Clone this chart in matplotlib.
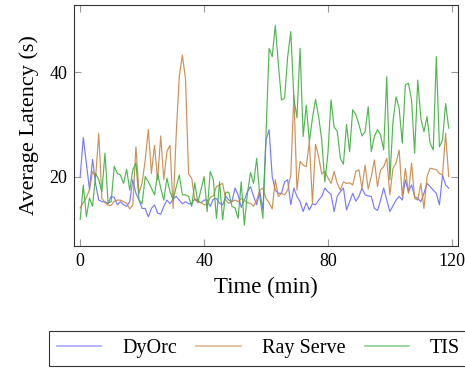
import matplotlib
matplotlib.use("Agg")
import matplotlib.pyplot as plt

time_min = list(range(120))

dyorc = [20.0, 27.5, 22.5, 17.5, 23.3, 18.5, 15.5, 15.2, 15.2, 14.8,
         16.2, 16.0, 14.6, 15.2, 14.6, 14.3, 15.2, 19.4, 16.8, 15.5,
         13.9, 13.9, 12.3, 13.9, 14.6, 13.0, 12.8, 14.3, 15.5, 14.8,
         15.7, 16.2, 15.5, 14.8, 15.2, 14.8, 14.8, 15.8, 15.2, 15.0,
         15.5, 15.5, 14.3, 15.7, 15.8, 14.9, 14.6, 16.2, 15.5, 15.2,
         17.8, 16.5, 14.1, 15.5, 17.1, 18.1, 16.2, 14.6, 17.1, 13.6,
         27.0, 29.0, 20.0, 17.4, 16.8, 16.8, 19.0, 19.4, 14.6, 17.8,
         16.2, 15.2, 13.3, 15.0, 13.6, 14.8, 14.6, 15.5, 16.2, 17.8,
         17.1, 16.6, 13.3, 16.2, 17.1, 17.8, 13.6, 15.2, 16.8, 15.3,
         16.2, 17.8, 16.5, 16.3, 16.2, 13.9, 13.5, 15.5, 17.8, 15.5,
         13.3, 14.4, 15.5, 16.2, 15.5, 19.4, 17.1, 18.4, 16.2, 15.8,
         15.2, 16.8, 18.7, 18.1, 17.4, 16.8, 14.6, 20.3, 18.4, 17.8]

ray_serve = [14.0, 15.0, 16.0, 17.5, 21.0, 20.0, 28.3, 15.8, 15.0, 14.5,
             14.5, 15.3, 15.5, 15.5, 15.2, 14.9, 13.8, 14.6, 25.7, 16.8,
             18.8, 23.2, 29.0, 20.6, 26.0, 19.4, 27.8, 19.4, 24.8, 26.0,
             13.9, 28.0, 39.2, 43.3, 38.8, 20.5, 19.7, 15.5, 15.2, 15.0,
             14.6, 14.6, 16.0, 16.3, 18.1, 18.4, 18.7, 15.5, 14.9, 15.2,
             15.5, 15.2, 15.8, 15.5, 15.0, 14.9, 14.3, 15.5, 17.4, 17.8,
             15.8, 15.0, 13.8, 19.4, 16.2, 16.8, 16.5, 17.4, 20.3, 35.6,
             17.4, 22.9, 22.2, 21.9, 26.7, 14.9, 26.2, 23.8, 20.5, 21.0,
             19.8, 18.7, 21.0, 18.7, 17.4, 19.0, 18.7, 18.8, 18.4, 21.0,
             21.3, 17.8, 22.2, 17.6, 20.0, 23.2, 18.1, 21.3, 21.9, 23.5,
             16.5, 21.6, 22.6, 25.1, 16.2, 21.6, 16.8, 22.6, 15.8, 15.5,
             18.7, 13.9, 20.0, 21.6, 21.5, 21.3, 20.6, 20.3, 28.3, 20.0]

tis = [11.8, 18.4, 12.3, 15.9, 14.3, 20.6, 19.4, 17.1, 24.5, 14.9,
       15.2, 22.0, 20.6, 20.3, 18.7, 21.4, 17.4, 21.3, 22.6, 15.5,
       14.8, 20.0, 19.0, 17.8, 16.5, 20.6, 17.8, 15.5, 19.7, 17.1,
       15.6, 18.0, 20.3, 16.5, 16.5, 16.2, 14.3, 18.8, 15.0, 17.5,
       20.0, 13.3, 21.0, 19.4, 12.0, 19.0, 11.7, 17.0, 17.0, 14.3,
       14.0, 12.0, 19.0, 10.7, 16.8, 20.8, 18.7, 23.5, 16.2, 12.0,
       28.0, 44.6, 43.0, 49.0, 41.5, 34.7, 35.0, 43.0, 47.8, 35.0,
       31.3, 44.6, 27.7, 33.7, 26.7, 31.2, 34.8, 31.5, 27.0, 19.0,
       24.5, 34.7, 29.5, 28.7, 23.5, 22.4, 30.0, 24.8, 32.8, 31.9,
       30.0, 27.8, 28.6, 33.4, 24.8, 27.7, 29.0, 28.0, 25.1, 39.2,
       19.4, 30.5, 35.3, 33.1, 26.4, 37.6, 37.9, 34.7, 24.5, 38.5,
       31.2, 28.6, 31.5, 26.4, 25.1, 43.0, 25.7, 27.0, 34.0, 29.3]

series_names = ["DyOrc", "Ray Serve", "TIS"]
x_ticks = [0, 40, 80, 120]
y_ticks = [20, 40]

plt.rcParams['font.family'] = ['Liberation Serif', 'DejaVu Serif']

fig = plt.figure(figsize=(4.65, 3.69), dpi=100)
ax = fig.add_axes([74/465, 1 - 246/369, (458 - 74)/465, (246 - 5)/369])

colors = ["#6b6bff", "#c98545", "#3fb03f"]
for vals, name, c in zip([dyorc, ray_serve, tis], series_names, colors):
    ax.plot(time_min, vals, color=c, lw=0.85, label=name, alpha=0.9)

ax.set_xlim(-2, 122)
ax.set_ylim(6.7, 52.9)
ax.set_xticks(x_ticks)
ax.set_yticks(y_ticks)
ax.tick_params(axis='both', direction='in', length=5, width=0.8, color='#999999',
               top=True, right=True, labelsize=13, pad=5)
for s in ax.spines.values():
    s.set_linewidth(0.8)
    s.set_color('#333333')

ax.set_xlabel("Time (min)", fontsize=16.5, labelpad=5)
ax.set_ylabel("Average Latency (s)", fontsize=16, labelpad=7)

leg = fig.legend(loc='upper left', bbox_to_anchor=(49/465, 1 - 331/369), ncol=3,
                 fontsize=14.5, frameon=True, fancybox=False, edgecolor='black',
                 handlelength=2.2, handletextpad=1.05, columnspacing=0.95,
                 borderpad=0.4, borderaxespad=0)
leg.get_frame().set_linewidth(0.8)
for line in leg.get_lines():
    line.set_alpha(0.6)
    line.set_linewidth(1.2)

fig.savefig("out.png", dpi=100)
